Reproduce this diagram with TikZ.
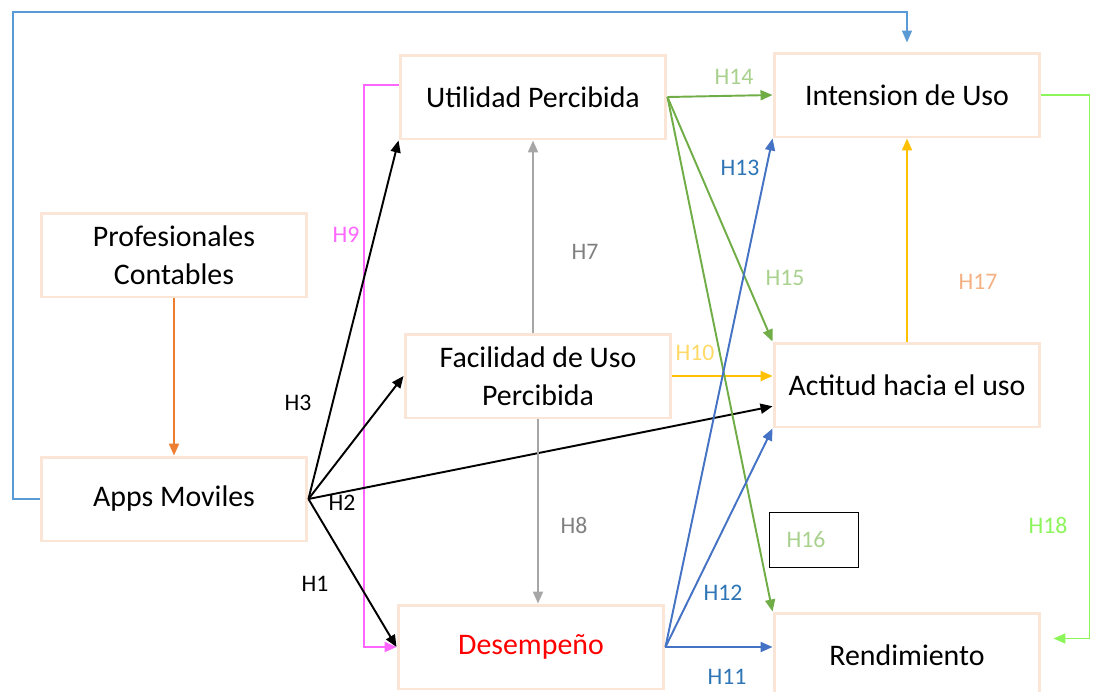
\documentclass[tikz,border=0pt]{standalone}
\usepackage{fontspec}
\setmainfont{Carlito}
\usetikzlibrary{arrows.meta}
\definecolor{bordecaja}{RGB}{251,229,214}
\definecolor{azulmarco}{RGB}{91,155,213}
\definecolor{naranja}{RGB}{237,125,49}
\definecolor{rosa}{RGB}{255,102,255}
\definecolor{gris}{RGB}{166,166,166}
\definecolor{grisoscuro}{RGB}{128,128,128}
\definecolor{verde}{RGB}{112,173,71}
\definecolor{verdeclaro}{RGB}{169,209,142}
\definecolor{azul}{RGB}{68,114,196}
\definecolor{azultexto}{RGB}{46,117,182}
\definecolor{amarillo}{RGB}{255,192,0}
\definecolor{amarilloclaro}{RGB}{255,217,102}
\definecolor{melocoton}{RGB}{244,177,131}
\definecolor{verdelima}{RGB}{140,245,90}
\begin{document}
\begin{tikzpicture}[x=0.02cm, y=-0.02cm,
	caja/.style={draw=bordecaja, line width=1.7pt, minimum width=5.32cm, minimum height=1.68cm, inner sep=0pt, align=center, font=\fontsize{17}{21.5}\selectfont},
	hip/.style={inner sep=1pt, font=\fontsize{13.5}{15}\selectfont},
	flecha/.style={line width=1.1pt, -{Triangle[length=2.4mm, width=2mm]}}]
			\useasboundingbox (0,0) rectangle (1093,691);
			% cajas
			\node [caja] (prof) at (174,255) {Profesionales\\Contables};
			\node [caja] (apps) at (174,499) {Apps Moviles};
			\node [caja] (util) at (533,97) {Utilidad Percibida};
			\node [caja] (facil) at (538,376) {Facilidad de Uso\\Percibida};
			\node [caja] (desem) at (531,647) [text=red] {Desempeño};
			\node [caja] (inten) at (907,95) {Intension de Uso};
			\node [caja] (actit) at (907,385) {Actitud hacia el uso};
			\node [caja] (rend) at (907,655) {Rendimiento};
			\coordinate (esquina) at (13,12);
			% flechas
			\draw [flecha, azulmarco, line width=0.9pt] [shorten >=0.18cm] (apps.west) -| (esquina) -| (inten.north);
			\draw [flecha, naranja] (prof.south) -- (apps.north);
			\draw [flecha, rosa] (util.175) -- ++(-35,0) |- (desem.west);
			\draw [flecha] (apps.east) -- (util.south west);
			\draw [flecha] (apps.east) -- (facil.west);
			\draw [flecha] (apps.east) -- (actit.189);
			\draw [flecha] (apps.east) -- (desem.west);
			\draw [flecha, gris] (util.south |- facil.north) -- (util.south);
			\draw [flecha, gris] (facil.south) -- (facil.south |- desem.north);
			\draw [flecha, amarillo] (facil.east) -- (facil.east -| actit.west);
			\draw [flecha, amarillo] (actit.north) -- (inten.south);
			\draw [flecha, verde] (util.east) -- (inten.west);
			\draw [flecha, verde] (util.east) -- (actit.north west);
			\draw [flecha, verde] (util.east) -- (rend.north west);
			\draw [flecha, azul] (desem.east) -- (inten.south west);
			\draw [flecha, azul] (desem.east) -- (actit.south west);
			\draw [flecha, azul] (desem.east) -- (desem.east -| rend.west);
			\draw [flecha, verdelima] [shorten >=0.24cm] (inten.east) -- ++(48,0) |- (rend.7);
			% hipotesis
			\node [hip] (h1) at (315,584) {H1};
			\node [hip] (h2) at (342,503) {H2};
			\node [hip] (h3) at (298,403) {H3};
			\node [hip, text=grisoscuro] (h7) at (585,252) {H7};
			\node [hip, text=grisoscuro] (h8) at (574,525) {H8};
			\node [hip, text=rosa] (h9) at (346,235) {H9};
			\node [hip, text=amarilloclaro] (h10) at (695,353) {H10};
			\node [hip, text=azultexto] (h11) at (727,677) {H11};
			\node [hip, text=azultexto] (h12) at (723,593) {H12};
			\node [hip, text=azultexto] (h13) at (740,168) {H13};
			\node [hip, text=verdeclaro] (h14) at (734,77) {H14};
			\node [hip, text=verdeclaro] (h15) at (785,278) {H15};
			\node [hip, text=verdeclaro, draw=black, text width=1.1cm, inner xsep=0.34cm, minimum height=1.1cm, line width=0.6pt, align=left] (h16) at (814,540) {H16};
			\node [hip, text=melocoton] (h17) at (978,282) {H17};
			\node [hip, text=verdelima] (h18) at (1048,525) {H18};
		\end{tikzpicture}
\end{document}
